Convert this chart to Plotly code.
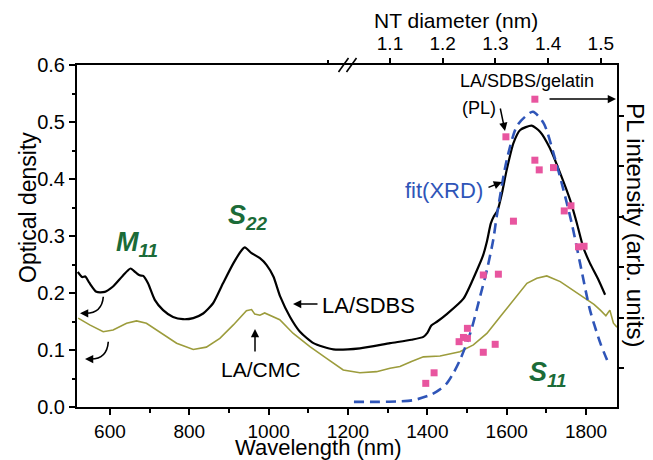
import plotly.graph_objects as go

# ---------------- data ----------------
sdbs_nm = [519, 530, 538, 548, 566, 587, 607, 632, 652, 665, 675, 684, 696, 713, 734, 759, 784, 810, 835,
           860, 885, 911, 932, 940, 957, 978, 995, 1012, 1029, 1054, 1079, 1113, 1163, 1230, 1306, 1360,
           1390, 1400, 1410, 1425, 1449, 1491, 1525, 1540, 1550, 1560, 1568, 1577, 1588, 1600, 1617, 1634,
           1663, 1684, 1709, 1735, 1760, 1777, 1793, 1810, 1830, 1848]
sdbs_od = [0.237, 0.228, 0.229, 0.218, 0.202, 0.202, 0.211, 0.230, 0.243, 0.236, 0.231, 0.230, 0.217, 0.188,
           0.170, 0.158, 0.154, 0.156, 0.164, 0.182, 0.217, 0.252, 0.275, 0.280, 0.270, 0.261, 0.249, 0.229,
           0.194, 0.158, 0.132, 0.112, 0.101, 0.103, 0.112, 0.118, 0.123, 0.130, 0.143, 0.150, 0.163, 0.190,
           0.240, 0.265, 0.290, 0.322, 0.335, 0.345, 0.375, 0.416, 0.463, 0.486, 0.4935, 0.483, 0.454, 0.410,
           0.363, 0.322, 0.280, 0.252, 0.225, 0.197]

cmc_nm = [520, 549, 583, 608, 642, 667, 692, 726, 768, 810, 843, 877, 911, 944, 957, 965, 978, 990, 1003,
          1028, 1062, 1104, 1146, 1188, 1230, 1272, 1306, 1331, 1360, 1390, 1432, 1482, 1516, 1550, 1583,
          1617, 1651, 1676, 1701, 1735, 1768, 1802, 1820, 1836, 1850, 1860, 1869, 1878]
cmc_od = [0.156, 0.144, 0.132, 0.135, 0.147, 0.151, 0.147, 0.132, 0.112, 0.101, 0.105, 0.1205, 0.144, 0.169,
          0.171, 0.163, 0.161, 0.165, 0.161, 0.153, 0.129, 0.106, 0.0854, 0.065, 0.060, 0.062, 0.068, 0.071,
          0.080, 0.088, 0.0895, 0.097, 0.109, 0.129, 0.158, 0.188, 0.217, 0.226, 0.230, 0.220, 0.205, 0.188,
          0.180, 0.170, 0.160, 0.170, 0.147, 0.140]

fit_nm = [1215, 1280, 1330, 1365, 1407, 1430, 1449, 1466, 1482, 1508, 1533, 1550, 1566, 1575, 1600, 1625,
          1646, 1666, 1693, 1718, 1743, 1764, 1785, 1810, 1836, 1853]
fit_val = [0.009, 0.009, 0.010, 0.012, 0.021, 0.030, 0.0415, 0.060, 0.082, 0.129, 0.194, 0.240, 0.293, 0.335,
           0.433, 0.492, 0.509, 0.518, 0.498, 0.445, 0.381, 0.322, 0.252, 0.170, 0.112, 0.0825]

pl_nm = [1396, 1417, 1480, 1491, 1501, 1501, 1541, 1571, 1541, 1579, 1598, 1617, 1671, 1671, 1682, 1718,
         1745, 1762, 1781, 1795]
pl_val = [0.0415, 0.060, 0.1146, 0.122, 0.1205, 0.138, 0.096, 0.110, 0.2316, 0.233, 0.474, 0.326, 0.540,
          0.433, 0.416, 0.420, 0.344, 0.353, 0.281, 0.282]

x_ticks = [600, 800, 1000, 1200, 1400, 1600, 1800]
y_ticks = [0.0, 0.1, 0.2, 0.3, 0.4, 0.5, 0.6]
diam_ticks = [1.1, 1.2, 1.3, 1.4, 1.5]
diam_labels = ["1.1", "1.2", "1.3", "1.4", "1.5"]

# ---------------- geometry (page pixels; the page body adds an 8px offset) ----------------
BODY = 8
W, H = 653 - BODY, 460 - BODY
PL_, PT_, PR_, PB_ = 77, 65, 617, 407          # plot box in page pixels
ML, MT = PL_ - BODY, PT_ - BODY
MR, MB = W + BODY - PR_, H + BODY - PB_
PW, PH = PR_ - PL_, PB_ - PT_
XR = [517, 1878]
YR = [0, 0.6]


def X(px):
    return XR[0] + (px - PL_) / PW * (XR[1] - XR[0])


def Y(py):
    return YR[0] + (PB_ - py) / PH * (YR[1] - YR[0])


def PX(px):
    return (px - PL_) / PW


def PY(py):
    return (PB_ - py) / PH


FONT = "Liberation Sans, Arial, Helvetica, sans-serif"
GREEN = "#1b6b38"
PINK = "#e8559f"
OLIVE = "#9c9c3c"
BLUE = "#2f55b8"

fig = go.Figure()
fig.add_trace(go.Scatter(x=cmc_nm, y=cmc_od, mode="lines", line=dict(color=OLIVE, width=1.6),
                         showlegend=False, hoverinfo="skip"))
fig.add_trace(go.Scatter(x=sdbs_nm, y=sdbs_od, mode="lines",
                         line=dict(color="black", width=2.2, shape="spline", smoothing=0.6),
                         showlegend=False, hoverinfo="skip"))
fig.add_trace(go.Scatter(x=fit_nm, y=fit_val, mode="lines",
                         line=dict(color=BLUE, width=2.6, dash="10px,6px", shape="spline", smoothing=0.8),
                         showlegend=False, hoverinfo="skip"))
fig.add_trace(go.Scatter(x=pl_nm, y=pl_val, mode="markers",
                         marker=dict(symbol="square", size=7, color=PINK, line=dict(width=0)),
                         showlegend=False, hoverinfo="skip"))
# helper traces so the top and right axes are drawn
fig.add_trace(go.Scatter(x=[diam_ticks[0]], y=[y_ticks[0]], xaxis="x2", yaxis="y", mode="markers",
                         marker=dict(opacity=0), showlegend=False, hoverinfo="skip"))
fig.add_trace(go.Scatter(x=[x_ticks[0]], y=[0], xaxis="x", yaxis="y2", mode="markers",
                         marker=dict(opacity=0), showlegend=False, hoverinfo="skip"))

tickfont = dict(family=FONT, size=20, color="black")
fig.update_layout(
    width=W, height=H,
    margin=dict(l=ML, r=MR, t=MT, b=MB, autoexpand=False),
    paper_bgcolor="white", plot_bgcolor="white",
    font=dict(family=FONT, color="black"),
    xaxis=dict(range=XR, tickvals=x_ticks, ticks="outside", ticklen=6, tickwidth=1.5, tickcolor="black",
               minor=dict(dtick=100, tick0=0, ticks="outside", ticklen=4, tickwidth=1.5, tickcolor="black"),
               showline=True, linewidth=2, linecolor="black", mirror=True, showgrid=False, zeroline=False,
               tickfont=dict(family=FONT, size=19, color="black")),
    yaxis=dict(range=YR, tickvals=y_ticks, tickformat=".1f", ticks="outside", ticklen=6, tickwidth=1.5,
               tickcolor="black",
               minor=dict(dtick=0.05, tick0=0, ticks="outside", ticklen=3, tickwidth=1.5, tickcolor="black"),
               showline=True, linewidth=2, linecolor="black", mirror=True, showgrid=False, zeroline=False,
               tickfont=tickfont),
    xaxis2=dict(overlaying="x", side="top", anchor="y",
                range=[1.1 - (390 - PL_) / 527.0, 1.1 + (PR_ - 390) / 527.0],
                tickvals=diam_ticks, ticktext=diam_labels, ticks="outside", ticklen=6, tickwidth=1.5,
                tickcolor="black",
                minor=dict(tickvals=[0.982], ticks="outside", ticklen=4, tickwidth=1.5, tickcolor="black"),
                showline=False, showgrid=False, zeroline=False, tickfont=dict(family=FONT, size=19)),
    yaxis2=dict(overlaying="y", side="right", anchor="x", range=[-0.772, 6], tickvals=[0, 1, 2, 3, 4, 5],
                ticks="outside", ticklen=6, tickwidth=1.5, tickcolor="black", showticklabels=False,
                showline=False, showgrid=False, zeroline=False),
)

ann = []
# axis titles
ann.append(dict(text="Optical density", x=PX(28), y=PY(208), xref="paper", yref="paper", textangle=-90,
                showarrow=False, font=dict(size=23), xanchor="center", yanchor="middle"))
ann.append(dict(text="Wavelength (nm)", x=PX(318), y=PY(447), xref="paper", yref="paper",
                showarrow=False, font=dict(size=22), xanchor="center", yanchor="middle"))
ann.append(dict(text="NT diameter (nm)", x=PX(456), y=PY(21), xref="paper", yref="paper",
                showarrow=False, font=dict(size=21), xanchor="center", yanchor="middle"))
ann.append(dict(text="PL intensity (arb. units)", x=PX(636), y=PY(225), xref="paper", yref="paper",
                textangle=90, showarrow=False, font=dict(size=24), xanchor="center", yanchor="middle"))
# band labels
for txt, cx, cy in [("M<sub>11</sub>", 137, 244), ("S<sub>22</sub>", 248, 217), ("S<sub>11</sub>", 548, 374)]:
    ann.append(dict(text="<b><i>" + txt + "</i></b>", x=X(cx), y=Y(cy), showarrow=False,
                    font=dict(size=27, color=GREEN), xanchor="center", yanchor="middle"))
# curve labels
ann.append(dict(text="LA/SDBS", x=X(320), y=Y(305), showarrow=False, font=dict(size=22),
                xanchor="left", yanchor="middle"))
ann.append(dict(text="LA/CMC", x=X(260), y=Y(369), showarrow=False, font=dict(size=21),
                xanchor="center", yanchor="middle"))
ann.append(dict(text="LA/SDBS/gelatin", x=X(458), y=Y(81), showarrow=False, font=dict(size=18),
                xanchor="left", yanchor="middle"))
ann.append(dict(text="(PL)", x=X(460), y=Y(108), showarrow=False, font=dict(size=18),
                xanchor="left", yanchor="middle"))
ann.append(dict(text="fit(XRD)", x=X(444), y=Y(190), showarrow=False, font=dict(size=22, color=BLUE),
                xanchor="center", yanchor="middle"))
# arrows (head at x,y ; tail offset in px)
arrow = dict(text="", showarrow=True, arrowhead=2, arrowsize=1.1, arrowwidth=1.5, arrowcolor="black")
ann.append(dict(arrow, x=X(293), y=Y(304), ax=26, ay=0))
ann.append(dict(arrow, x=X(255), y=Y(329), ax=0, ay=24))
ann.append(dict(arrow, x=X(505), y=Y(131), ax=-5, ay=-24))
ann.append(dict(arrow, x=X(616), y=Y(99), ax=-68, ay=0))
ann.append(dict(arrow, x=X(502), y=Y(182), ax=-15, ay=6))
ann.append(dict(arrow, x=X(80), y=Y(313.3), ax=7, ay=0))
ann.append(dict(arrow, x=X(85), y=Y(359), ax=7, ay=0))
fig.update_layout(annotations=ann)

shapes = []
# curved arrow shafts
for (x0, y0), (cx, cy), (x1, y1) in [((103.3, 296.7), (102, 313), (86, 313.3)),
                                      ((108.3, 341.7), (107, 359), (91, 359))]:
    shapes.append(dict(type="path", xref="x", yref="y",
                       path=f"M {X(x0)},{Y(y0)} Q {X(cx)},{Y(cy)} {X(x1)},{Y(y1)}",
                       line=dict(color="black", width=1.6)))
# axis break marks on the top axis
for xa in (338.5, 346.5):
    shapes.append(dict(type="line", xref="paper", yref="paper", x0=PX(xa), y0=PY(72), x1=PX(xa + 10), y1=PY(58),
                       line=dict(color="black", width=1.6)))
fig.update_layout(shapes=shapes)

fig.write_html("out.html")
